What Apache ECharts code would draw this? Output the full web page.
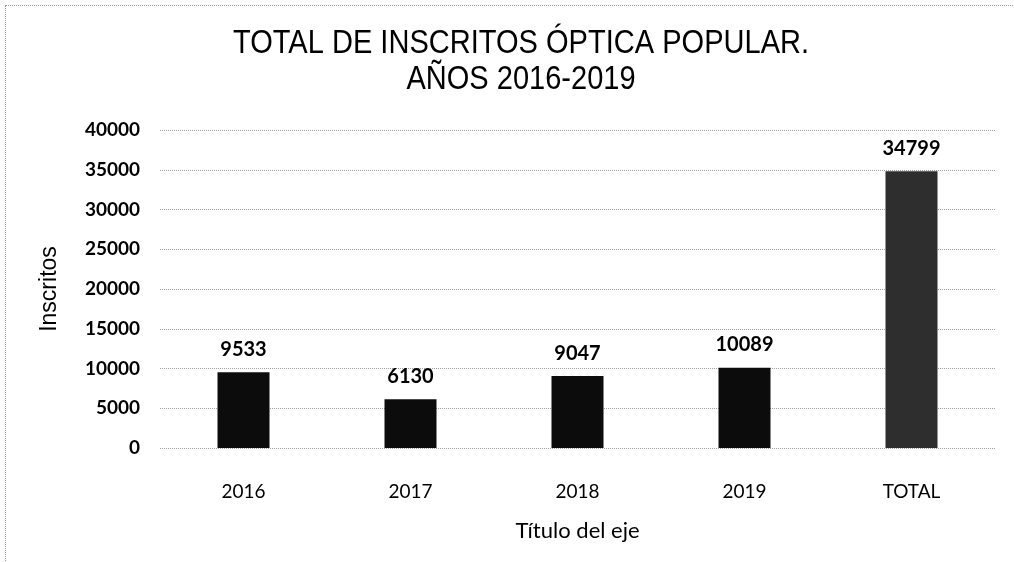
<!DOCTYPE html>
<html>
<head>
<meta charset="utf-8">
<script src="https://cdn.jsdelivr.net/npm/echarts@6/dist/echarts.min.js"></script>
<style>
  html, body { margin: 0; padding: 0; background: #fff; }
  #frame { position: absolute; left: 5px; top: 5px; width: 1010px; height: 600px;
           border-left: 1px dotted #9a9a9a; border-top: 1px dotted #9a9a9a; box-sizing: border-box; }
  #chart { position: absolute; left: 0; top: 0; width: 1014px; height: 562px; }
</style>
</head>
<body>
<div id="frame"></div>
<div id="chart"></div>
<script>
// Enrolment counts per year, plus the overall total
const categories = ['2016', '2017', '2018', '2019', 'TOTAL'];
const inscritos = [9533, 6130, 9047, 10089, 34799];
const yTicks = [0, 5000, 10000, 15000, 20000, 25000, 30000, 35000, 40000];
const titleLines = ['TOTAL DE INSCRITOS ÓPTICA POPULAR.', 'AÑOS 2016-2019'];

const barColors = ['#0c0c0c', '#0c0c0c', '#0c0c0c', '#0c0c0c', '#2e2e2e'];
const bodyFont = 'Lato, "Open Sans", sans-serif';

const chart = echarts.init(document.getElementById('chart'), null, { renderer: 'canvas' });

chart.setOption({
  animation: false,
  backgroundColor: 'transparent',
  // condensed two-line heading, drawn as a horizontally squeezed text element
  graphic: [{
    type: 'text',
    x: 521,
    y: 26,
    scaleX: 0.88,
    originX: 0,
    style: {
      text: titleLines.join('\n'),
      x: 0,
      y: 0,
      align: 'center',
      verticalAlign: 'top',
      font: 'normal 33px "Liberation Sans", Arial, sans-serif',
      lineHeight: 36,
      fill: '#000'
    }
  }],
  grid: { left: 160, right: 19, top: 130, bottom: 114, containLabel: false },
  xAxis: {
    type: 'category',
    data: categories,
    name: 'Título del eje',
    nameLocation: 'middle',
    nameGap: 72,
    nameTextStyle: { fontFamily: bodyFont, fontSize: 22, color: '#000' },
    axisLine: { show: false },
    axisTick: { show: false },
    axisLabel: { margin: 34, fontFamily: bodyFont, fontSize: 19, color: '#000' }
  },
  yAxis: {
    type: 'value',
    min: yTicks[0],
    max: yTicks[yTicks.length - 1],
    interval: yTicks[1] - yTicks[0],
    name: 'Inscritos',
    nameLocation: 'middle',
    nameGap: 99,
    nameRotate: 90,
    nameTextStyle: { fontFamily: '"Liberation Sans", Arial, sans-serif', fontSize: 23, color: '#000' },
    axisLine: { show: false },
    axisTick: { show: false },
    axisLabel: {
      margin: 20,
      formatter: v => String(v),
      fontFamily: bodyFont, fontSize: 19, fontWeight: 'bold', color: '#000'
    },
    splitLine: { lineStyle: { type: 'dotted', color: '#a0a0a0', width: 1 } }
  },
  series: [{
    type: 'bar',
    data: inscritos.map((v, i) => ({ value: v, itemStyle: { color: barColors[i] } })),
    barWidth: 52,
    label: {
      show: true,
      position: 'top',
      distance: 13,
      fontFamily: bodyFont,
      fontSize: 20,
      fontWeight: 'bold',
      color: '#000'
    }
  }]
});
</script>
</body>
</html>
